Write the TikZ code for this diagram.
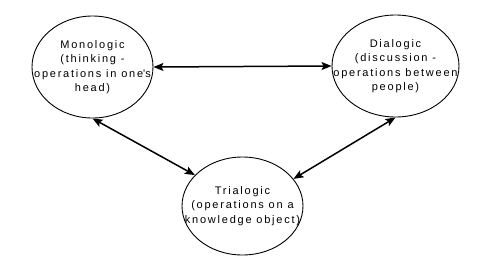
\documentclass[tikz,border=0pt]{standalone}
\usepackage{fontspec}
\setmainfont{Liberation Sans}[LetterSpace=16]
\usetikzlibrary{shapes.geometric,arrows.meta}

\begin{document}
\begin{tikzpicture}
                [
                x=1pt,y=-1pt,
                bubble/.style={ellipse,draw=black,line width=0.9pt,inner sep=0pt},
                words/.style={align=center,font=\fontsize{11}{14.5}\selectfont},
                arrow/.style={<->,>={Stealth[length=10pt,width=8pt,inset=2pt]},line width=1.5pt},
                ]
                \useasboundingbox (0,0) rectangle (480,266);
                \node[bubble, minimum width=121pt, minimum height=102pt, label={[words]center:Monologic\\(thinking -\\operations in one\textquotesingle s\\head)}] (mono) at (92.5,67) {};
                \node[bubble, minimum width=127pt, minimum height=102pt, label={[words]center:Dialogic\\(discussion -\\operations between\\people)}] (dial) at (395.5,66) {};
                \node[bubble, minimum width=121pt, minimum height=98pt, label={[words]center:Trialogic\\(operations on a\\knowledge object)}] (tri) at (242.5,206) {};
                \draw[arrow] (mono.east) -- (dial.west);
                \draw[arrow] (mono.south) -- (tri.147);
                \draw[arrow] (dial.south) -- (tri.28);
            \end{tikzpicture}
\end{document}
